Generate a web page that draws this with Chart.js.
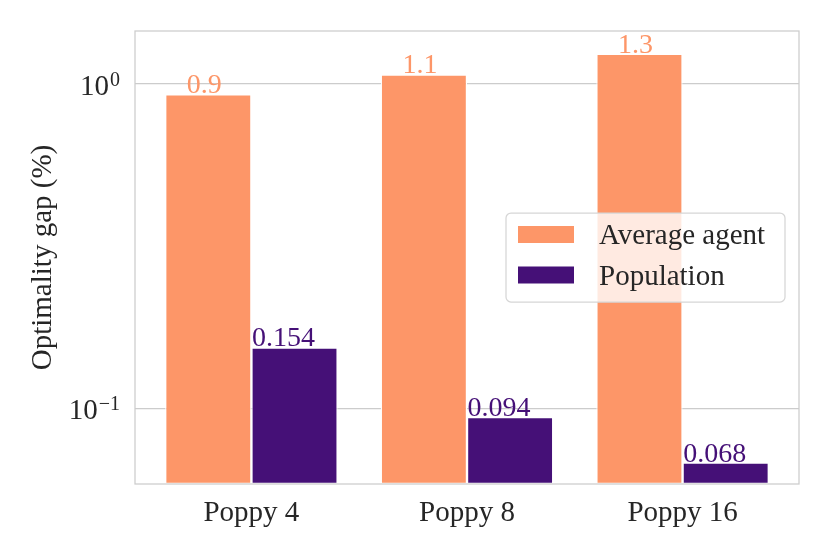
<!DOCTYPE html>
<html lang="en">
<head>
    <meta charset="UTF-8">
    <title>Optimality gap</title>
    <script src="https://cdn.jsdelivr.net/npm/chart.js"></script>
    <style>
        html, body {
            margin: 0;
            padding: 0;
            background: #ffffff;
        }
    </style>
</head>
<body>
    <canvas id="gapChart" width="830" height="554"></canvas>

    <script>
        // data
        const categories = ['Poppy 4', 'Poppy 8', 'Poppy 16'];
        const seriesNames = ['Average agent', 'Population'];
        const agentValues = [0.93, 1.07, 1.24];
        const agentLabels = ['0.9', '1.1', '1.3'];
        const populationValues = [0.154, 0.094, 0.068];
        const populationLabels = ['0.154', '0.094', '0.068'];
        const yTickValues = [0.1, 1];
        const yTickExponents = ['\u22121', '0'];

        const fontFamily = "'Liberation Serif', 'Times New Roman', serif";
        const textColor = '#262626';
        const gridColor = '#cccccc';
        const agentColor = '#fd9668';
        const populationColor = '#451077';
        const labelShift = [-4, -11];

        function toPoints(values) {
            return values.map((v, i) => ({ x: i, y: v }));
        }

        // box round the plot area, drawn over the bars like matplotlib spines
        const framePlugin = {
            id: 'frame',
            afterDatasetsDraw(chart) {
                const { ctx, chartArea: a } = chart;
                ctx.save();
                ctx.strokeStyle = gridColor;
                ctx.lineWidth = 1.25;
                ctx.strokeRect(a.left, a.top, a.right - a.left, a.bottom - a.top);
                ctx.restore();
            }
        };

        const valueLabelPlugin = {
            id: 'valueLabels',
            afterDatasetsDraw(chart) {
                const { ctx } = chart;
                ctx.save();
                ctx.font = '28px ' + fontFamily;
                ctx.textAlign = 'center';
                ctx.textBaseline = 'alphabetic';
                chart.data.datasets.forEach((ds, di) => {
                    const meta = chart.getDatasetMeta(di);
                    ctx.fillStyle = ds.backgroundColor;
                    meta.data.forEach((bar, i) => {
                        ctx.fillText(ds.valueLabels[i], bar.x + labelShift[di], bar.y - 1);
                    });
                });
                ctx.restore();
            }
        };

        // 10^n tick labels with a raised exponent
        const yTickPlugin = {
            id: 'yTickLabels',
            afterDraw(chart) {
                const { ctx, chartArea, scales } = chart;
                const right = chartArea.left - 15;
                ctx.save();
                ctx.fillStyle = textColor;
                ctx.textAlign = 'right';
                ctx.textBaseline = 'alphabetic';
                yTickValues.forEach((v, i) => {
                    const py = scales.y.getPixelForValue(v);
                    ctx.font = '20px ' + fontFamily;
                    ctx.fillText(yTickExponents[i], right, py + 2);
                    const ew = ctx.measureText(yTickExponents[i]).width;
                    ctx.font = '29px ' + fontFamily;
                    ctx.fillText('10', right - ew - 1, py + 11);
                });
                ctx.restore();
            }
        };

        const legendPlugin = {
            id: 'innerLegend',
            afterDraw(chart) {
                const { ctx, chartArea: a } = chart;
                const boxW = 279, boxH = 89;
                const boxX = a.right - 14 - boxW;
                const boxY = (a.top + a.bottom) / 2 - boxH / 2;
                ctx.save();
                ctx.beginPath();
                ctx.roundRect(boxX, boxY, boxW, boxH, 5);
                ctx.fillStyle = 'rgba(255, 255, 255, 0.8)';
                ctx.fill();
                ctx.strokeStyle = '#d6d6d6';
                ctx.lineWidth = 1.25;
                ctx.stroke();
                ctx.font = '29px ' + fontFamily;
                ctx.textAlign = 'left';
                ctx.textBaseline = 'alphabetic';
                chart.data.datasets.forEach((ds, i) => {
                    const top = boxY + 13 + i * 40.5;
                    ctx.fillStyle = ds.backgroundColor;
                    ctx.fillRect(boxX + 12, top, 56, 17);
                    ctx.fillStyle = textColor;
                    ctx.fillText(ds.label, boxX + 93, top + 18);
                });
                ctx.restore();
            }
        };

        const gapChart = new Chart(document.getElementById('gapChart').getContext('2d'), {
            type: 'bar',
            data: {
                datasets: [{
                    label: seriesNames[0],
                    data: toPoints(agentValues),
                    valueLabels: agentLabels,
                    backgroundColor: agentColor
                }, {
                    label: seriesNames[1],
                    data: toPoints(populationValues),
                    valueLabels: populationLabels,
                    backgroundColor: populationColor
                }]
            },
            options: {
                responsive: false,
                animation: false,
                devicePixelRatio: 1,
                layout: { padding: { top: 31, right: 31, left: 0, bottom: 0 } },
                datasets: {
                    bar: {
                        categoryPercentage: 0.8,
                        barPercentage: 1.0,
                        borderColor: '#ffffff',
                        borderWidth: 1.2,
                        borderSkipped: false
                    }
                },
                scales: {
                    x: {
                        type: 'linear',
                        min: -0.54,
                        max: 2.54,
                        offset: false,
                        afterBuildTicks: s => { s.ticks = categories.map((c, i) => ({ value: i })); },
                        afterFit: s => { s.height = 70; },
                        grid: { display: false, offset: false, drawTicks: false },
                        border: { display: false },
                        ticks: {
                            callback: v => categories[v],
                            autoSkip: false,
                            maxRotation: 0,
                            padding: 12,
                            color: textColor,
                            font: { family: fontFamily, size: 29 }
                        }
                    },
                    y: {
                        type: 'logarithmic',
                        min: 0.0584,
                        max: 1.457,
                        afterBuildTicks: s => { s.ticks = yTickValues.map(v => ({ value: v })); },
                        afterFit: s => { s.width = 135; },
                        grid: { color: gridColor, lineWidth: 1.25, drawTicks: false },
                        border: { display: false },
                        ticks: { display: false },
                        title: {
                            display: true,
                            text: 'Optimality gap (%)',
                            color: textColor,
                            font: { family: fontFamily, size: 29 },
                            padding: { top: 26, bottom: 0 }
                        }
                    }
                },
                plugins: {
                    legend: { display: false },
                    tooltip: { enabled: false }
                }
            },
            plugins: [framePlugin, valueLabelPlugin, yTickPlugin, legendPlugin]
        });
    </script>
</body>
</html>
